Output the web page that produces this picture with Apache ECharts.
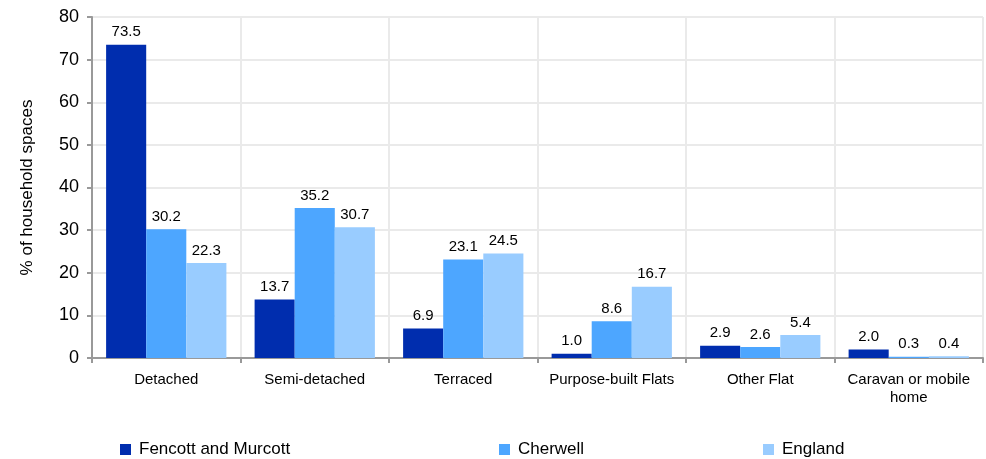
<!DOCTYPE html>
<html><head><meta charset="utf-8">
<script src="https://cdn.jsdelivr.net/npm/echarts@6/dist/echarts.min.js"></script>
<style>html,body{margin:0;padding:0;background:#fff}#c{width:986px;height:459px}</style>
</head><body><div id="c"></div>
<script>
const categories = ['Detached','Semi-detached','Terraced','Purpose-built Flats','Other Flat','Caravan or mobile\nhome'];
const seriesNames = ['Fencott and Murcott','Cherwell','England'];
const fencott = [73.5, 13.7, 6.9, 1.0, 2.9, 2.0];
const cherwell = [30.2, 35.2, 23.1, 8.6, 2.6, 0.3];
const england = [22.3, 30.7, 24.5, 16.7, 5.4, 0.4];
const yTicks = [0,10,20,30,40,50,60,70,80];
const colors = ['#002DAE','#4DA6FF','#99CCFF'];
const font = 'Liberation Sans, Arial, sans-serif';
const chart = echarts.init(document.getElementById('c'));
const vals = [fencott, cherwell, england];
const legendLefts = [115, 494, 758];
chart.setOption({
  animation:false,
  textStyle:{fontFamily:font},
  grid:{left:92,right:3,top:17,bottom:101},
  legend: seriesNames.map((n,i)=>({data:[n],left:legendLefts[i],top:436,itemWidth:11,itemHeight:11,icon:'rect',itemGap:10,textStyle:{fontSize:17,color:'#000',fontFamily:font,padding:[0,0,0,3]}})),
  xAxis:{type:'category',data:categories,
    axisLine:{lineStyle:{color:'#999',width:2}},
    axisTick:{show:true,length:5,lineStyle:{color:'#999',width:2}},
    splitLine:{show:true,lineStyle:{color:'#eaeaea',width:2}},
    axisLabel:{fontSize:15,color:'#000',margin:13,lineHeight:18,interval:0}},
  yAxis:{type:'value',min:yTicks[0],max:yTicks[yTicks.length-1],interval:10,
    name:'% of household spaces',nameLocation:'middle',nameGap:56,nameRotate:90,
    nameTextStyle:{fontSize:17,color:'#000'},
    axisLine:{show:true,lineStyle:{color:'#999',width:2}},
    axisTick:{show:true,length:5,lineStyle:{color:'#999',width:2}},
    splitLine:{show:true,lineStyle:{color:'#eaeaea',width:2}},
    axisLabel:{fontSize:18,color:'#000',margin:13}},
  series: seriesNames.map((n,i)=>({name:n,type:'bar',data:vals[i],barGap:'0%',barCategoryGap:'19%',
    itemStyle:{color:colors[i]},
    label:{show:true,position:'top',distance:5,fontSize:15,color:'#000',formatter:p=>p.value.toFixed(1)}}))
});
</script></body></html>
